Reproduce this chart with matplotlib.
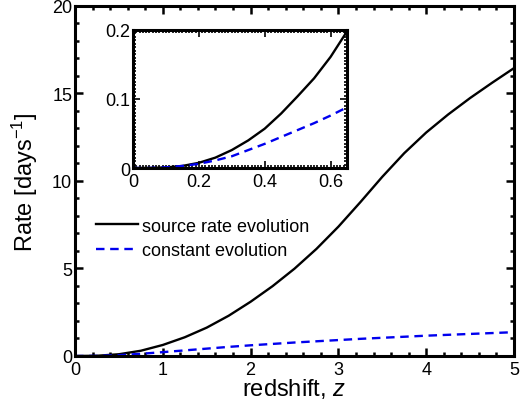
import matplotlib
matplotlib.use("Agg")
import matplotlib.pyplot as plt
from matplotlib.ticker import MultipleLocator

plt.rcParams['font.family'] = ['Liberation Sans', 'DejaVu Sans']
plt.rcParams['mathtext.fontset'] = 'custom'
plt.rcParams['mathtext.rm'] = 'Liberation Sans'
plt.rcParams['mathtext.it'] = 'Liberation Sans:italic'

# main panel data
z_main = [0, 0.25, 0.5, 0.75, 1.0, 1.25, 1.5, 1.75, 2.0, 2.25, 2.5, 2.75,
          3.0, 3.25, 3.5, 3.75, 4.0, 4.25, 4.5, 4.75, 5.0]
rate_source = [0, 0.012, 0.1, 0.3, 0.63, 1.07, 1.62, 2.3, 3.1, 3.99, 4.99, 6.12,
               7.39, 8.79, 10.24, 11.59, 12.77, 13.8, 14.74, 15.61, 16.45]
rate_const = [0, 0.006, 0.045, 0.125, 0.22, 0.32, 0.42, 0.52, 0.61, 0.69, 0.77,
              0.84, 0.91, 0.98, 1.04, 1.1, 1.16, 1.21, 1.26, 1.31, 1.36]

# inset data
z_inset = [0, 0.05, 0.1, 0.15, 0.2, 0.25, 0.3, 0.35, 0.4, 0.45, 0.5, 0.55, 0.6, 0.65]
inset_source = [0, 0.0001, 0.0008, 0.003, 0.0075, 0.015, 0.026, 0.04, 0.057,
                0.079, 0.104, 0.13, 0.161, 0.198]
inset_const = [0, 0.0001, 0.001, 0.003, 0.006, 0.011, 0.017, 0.026, 0.035,
               0.045, 0.055, 0.065, 0.076, 0.088]

labels = ["source rate evolution", "constant evolution"]

BLUE = '#0000ee'
DASH = (0, (3.6, 2.4))

fig = plt.figure(figsize=(5.22, 4.10), dpi=100)
ax = fig.add_axes([0.1437, 0.1293, 0.841, 0.8537])

ax.plot(z_main, rate_source, color='black', lw=1.7, label=labels[0])
ax.plot(z_main, rate_const, color=BLUE, lw=1.7, ls=DASH, label=labels[1])
ax.set_xlim(0, 5)
ax.set_ylim(0, 20)
ax.xaxis.set_major_locator(MultipleLocator(1))
ax.xaxis.set_minor_locator(MultipleLocator(0.2))
ax.yaxis.set_major_locator(MultipleLocator(5))
ax.yaxis.set_minor_locator(MultipleLocator(1))
ax.tick_params(which='both', direction='in', top=True, right=True, labelsize=13, width=1.8)
ax.tick_params(which='major', length=6)
ax.tick_params(axis='x', which='major', pad=3.5)
ax.tick_params(axis='y', which='major', pad=2)
ax.tick_params(which='minor', length=3)
for s in ax.spines.values():
    s.set_linewidth(2.2)
ax.set_xlabel(r"redshift, $z$", fontsize=17, labelpad=-1)
ax.set_ylabel(r"Rate [days$^{-1}$]", fontsize=17, labelpad=9)

leg = ax.legend(loc='center left', bbox_to_anchor=(0.032, 0.336), frameon=False,
                fontsize=13, handlelength=2.3, handletextpad=0.25,
                labelspacing=0.4, borderaxespad=0.0)

ins = fig.add_axes([0.2548, 0.5878, 0.41, 0.3366])
ins.plot(z_inset, inset_source, color='black', lw=1.7)
ins.plot(z_inset, inset_const, color=BLUE, lw=1.7, ls=DASH)
ins.set_xlim(0, 0.65)
ins.set_ylim(0, 0.2)
ins.xaxis.set_minor_locator(MultipleLocator(0.01))
ins.yaxis.set_minor_locator(MultipleLocator(0.005))
ins.set_xticks([0, 0.2, 0.4, 0.6])
ins.set_xticklabels(['0', '0.2', '0.4', '0.6'])
ins.set_yticks([0, 0.1, 0.2])
ins.set_yticklabels(['0', '0.1', '0.2'])
ins.tick_params(which='both', direction='in', top=True, right=True, labelsize=13, width=1.2)
ins.tick_params(which='major', length=5)
ins.tick_params(axis='x', which='major', pad=3.5)
ins.tick_params(axis='y', which='major', pad=2)
ins.tick_params(which='minor', length=2)
for s in ins.spines.values():
    s.set_linewidth(2.2)

fig.savefig("out.png", dpi=100)
